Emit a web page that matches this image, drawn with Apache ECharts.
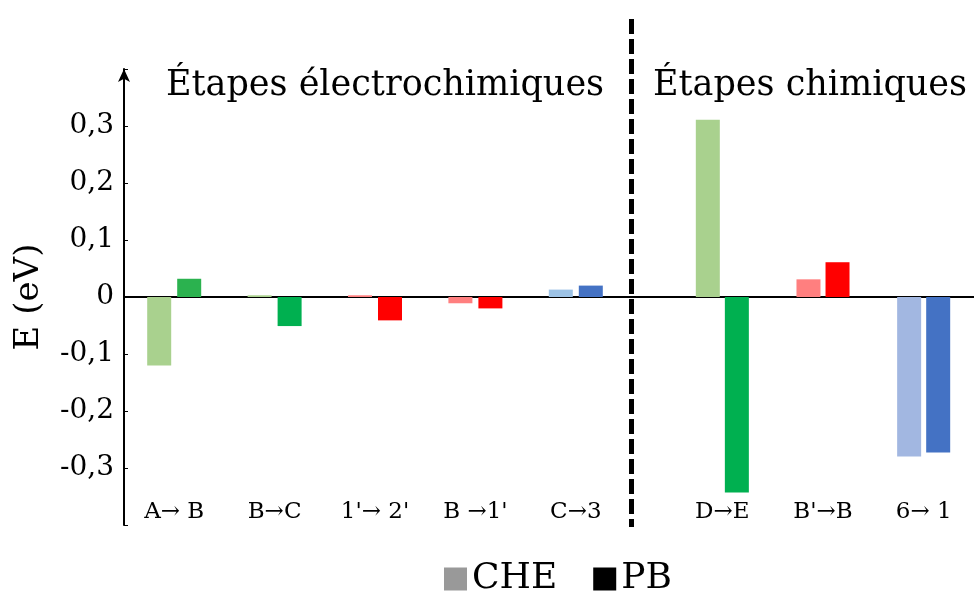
<!DOCTYPE html>
<html>
<head>
<meta charset="utf-8">
<script src="https://cdn.jsdelivr.net/npm/echarts@6/dist/echarts.min.js"></script>
<style>
html,body{margin:0;padding:0;background:#fff;}
#c{width:974px;height:591px;}
</style>
</head>
<body>
<div id="c"></div>
<script>
// ---- data ----
const leftCategories = ['A\u2192 B', 'B\u2192C', "1'\u2192 2'", "B \u21921'", 'C\u21923'];
const rightCategories = ['D\u2192E', "B'\u2192B", '6\u2192 1'];
const cheLeft = [-0.120, 0.003, 0.003, -0.011, 0.013];
const pbLeft = [0.032, -0.051, -0.041, -0.020, 0.020];
const cheRight = [0.311, 0.031, -0.280];
const pbRight = [-0.343, 0.061, -0.273];
const yTicks = [-0.3, -0.2, -0.1, 0, 0.1, 0.2, 0.3];
const sectionTitles = ['\u00c9tapes \u00e9lectrochimiques', '\u00c9tapes chimiques'];
const legendNames = ['CHE', 'PB'];

// ---- styles ----
const cheLeftColors = ['#a9d18e', '#a9d18e', '#ff7f7f', '#ff7f7f', '#9dc3e6'];
const pbLeftColors = ['#2bb24f', '#00b050', '#ff0000', '#ff0000', '#4472c4'];
const cheRightColors = ['#a9d18e', '#ff7f7f', '#a2b7e1'];
const pbRightColors = ['#00b050', '#ff0000', '#4472c4'];
const FONT = 'DejaVu Serif';

function fmt(v) {
  if (Math.abs(v) < 1e-9) return '0';
  const hit = yTicks.some(t => Math.abs(t - v) < 1e-6);
  if (!hit) return '';
  return v.toFixed(1).replace('.', ',');
}

const yBase = {min: -0.4, max: 0.4, interval: 0.1, type: 'value'};

const chart = echarts.init(document.getElementById('c'), null, {renderer: 'canvas'});
chart.setOption({
  animation: false,
  backgroundColor: '#fff',
  textStyle: {fontFamily: FONT},
  grid: [
    {left: 124, right: 348, top: 69, bottom: 66},
    {left: 672, right: -9, top: 69, bottom: 66},
    {left: 124, right: 0, top: 69, bottom: 66}
  ],
  legend: {
    data: [
      {name: legendNames[0], itemStyle: {color: '#999999'}},
      {name: legendNames[1], itemStyle: {color: '#000000'}}
    ],
    top: 561,
    left: 444,
    icon: 'rect',
    itemWidth: 23,
    itemHeight: 23,
    itemGap: 36,
    padding: 0,
    textStyle: {fontFamily: FONT, fontSize: 36, color: '#000'}
  },
  xAxis: [
    {type: 'category', gridIndex: 0, data: leftCategories,
     axisLine: {show: false, onZero: false}, axisTick: {show: false},
     offset: -24,
     axisLabel: {fontFamily: FONT, fontSize: 23, color: '#000', margin: 0, interval: 0}},
    {type: 'category', gridIndex: 1, data: rightCategories,
     axisLine: {show: false, onZero: false}, axisTick: {show: false},
     offset: -24,
     axisLabel: {fontFamily: FONT, fontSize: 23, color: '#000', margin: 0, interval: 0}},
    {type: 'value', gridIndex: 2, min: 0, max: 1,
     axisLine: {show: true, onZero: true, lineStyle: {color: '#000', width: 2}},
     axisTick: {show: false}, axisLabel: {show: false}, splitLine: {show: false}}
  ],
  yAxis: [
    Object.assign({}, yBase, {
      gridIndex: 0,
      name: 'E (eV)', nameLocation: 'middle', nameGap: 78,
      nameTextStyle: {fontFamily: FONT, fontSize: 34, color: '#000'},
      axisLine: {show: true, symbol: ['none', 'arrow'], symbolSize: [9, 13],
                 lineStyle: {color: '#000', width: 2}},
      axisTick: {show: true, inside: true, length: 4, lineStyle: {color: '#000', width: 1}},
      axisLabel: {formatter: fmt, fontFamily: FONT, fontSize: 28, color: '#000', margin: 10},
      splitLine: {show: false}
    }),
    Object.assign({}, yBase, {gridIndex: 1, show: false, splitLine: {show: false}}),
    Object.assign({}, yBase, {gridIndex: 2, show: false, splitLine: {show: false}})
  ],
  series: [
    {name: 'CHE', type: 'bar', xAxisIndex: 0, yAxisIndex: 0, data: cheLeft,
     barWidth: 24, barGap: '25%',
     itemStyle: {color: p => cheLeftColors[p.dataIndex]}},
    {name: 'PB', type: 'bar', xAxisIndex: 0, yAxisIndex: 0, data: pbLeft,
     barWidth: 24, barGap: '25%',
     itemStyle: {color: p => pbLeftColors[p.dataIndex]}},
    {name: 'CHE', type: 'bar', xAxisIndex: 1, yAxisIndex: 1, data: cheRight,
     barWidth: 24, barGap: '21%',
     itemStyle: {color: p => cheRightColors[p.dataIndex]}},
    {name: 'PB', type: 'bar', xAxisIndex: 1, yAxisIndex: 1, data: pbRight,
     barWidth: 24, barGap: '21%',
     itemStyle: {color: p => pbRightColors[p.dataIndex]}}
  ],
  graphic: [
    {type: 'line', z: 100,
     shape: {x1: 631.5, y1: 19, x2: 631.5, y2: 527},
     style: {stroke: '#000', lineWidth: 5, lineDash: [15, 5]}},
    {type: 'text', z: 100, x: 385, y: 86,
     style: {text: sectionTitles[0], fontFamily: FONT, fontSize: 35, fill: '#000',
             textAlign: 'center', textVerticalAlign: 'middle'}},
    {type: 'text', z: 100, x: 810, y: 86,
     style: {text: sectionTitles[1], fontFamily: FONT, fontSize: 35, fill: '#000',
             textAlign: 'center', textVerticalAlign: 'middle'}}
  ]
});
</script>
</body>
</html>
